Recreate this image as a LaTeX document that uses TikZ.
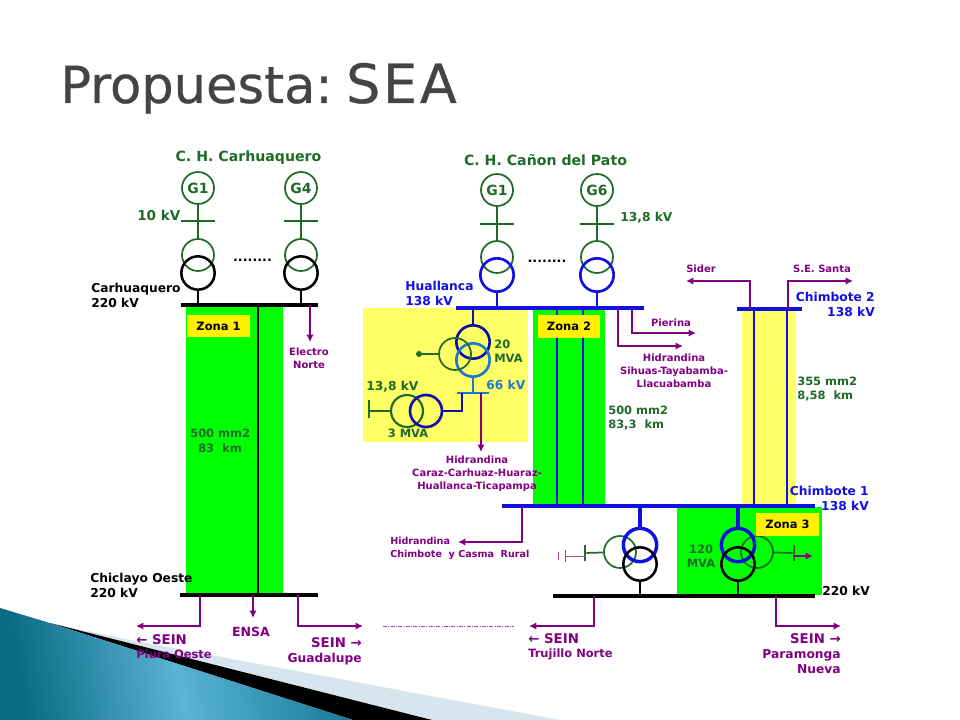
\documentclass[tikz,border=0pt]{standalone}
\usepackage{fontspec}
\setmainfont{DejaVu Sans}
\newfontfamily\titlefont[FakeBold=0.5,WordSpace=0.5]{DejaVu Sans}
\usetikzlibrary{arrows.meta}
\definecolor{gengreen}{HTML}{1E6B28}
\definecolor{zonegreen}{HTML}{00FF00}
\definecolor{paleyellow}{HTML}{FFFF66}
\definecolor{linepurple}{HTML}{800080}
\definecolor{busblue}{HTML}{1010E0}
\definecolor{lightblue}{HTML}{1E78D2}
\definecolor{navyblue}{HTML}{1010A8}
\definecolor{titlegrey}{HTML}{444444}
\definecolor{tealdark}{HTML}{0B6A85}
\definecolor{tealmid}{HTML}{5AB4D4}
\definecolor{tealend}{HTML}{1A7C9A}
\definecolor{palecorner}{HTML}{D5E6EE}
\tikzset{
    wind/.style ={circle, draw=gengreen, line width=1.3pt, inner sep=0pt, minimum size=24pt},
    gen/.style ={wind, text=gengreen, font=\bfseries\fontsize{10.5}{12}\selectfont},
    windk/.style ={wind, draw=black, line width=1.9pt, minimum size=25pt},
    windb/.style ={wind, draw=busblue, line width=2pt, minimum size=25pt},
    bus/.style ={inner sep=0pt, minimum height=3.3pt, fill=#1},
    tick/.style ={inner sep=0pt, minimum height=1.3pt, minimum width=25pt, fill=gengreen},
    tickv/.style ={inner sep=0pt, minimum width=1.5pt, minimum height=12pt, fill=gengreen},
    feed/.style ={draw=linepurple, line width=1.4pt, -{Latex[length=5.5pt,width=5.5pt]}},
    glink/.style ={draw=gengreen, line width=1.3pt},
    klink/.style ={draw=black, line width=1.9pt},
    blink/.style ={draw=busblue, line width=2.1pt},
    zonelabel/.style ={fill=yellow, inner sep=0pt, font=\bfseries\fontsize{8.6}{11}\selectfont, minimum width=47pt, minimum height=17pt},
    lbl/.style ={inner sep=0pt, align=#1, font=\bfseries\fontsize{8.6}{10.8}\selectfont},
    lbl/.default=left,
    place/.style ={lbl=#1, font=\bfseries\fontsize{9.2}{11.2}\selectfont},
    place/.default=left,
    small/.style ={inner sep=0pt, align=#1, text=linepurple, font=\bfseries\fontsize{7.5}{9.75}\selectfont},
    small/.default=center
}
\newcommand{\seinword}[1]{{\fontsize{10}{11}\selectfont #1}}
\begin{document}
\begin{tikzpicture}[x=0.75pt,y=-0.75pt]
    \useasboundingbox (0,0) rectangle (960,720);
    \node[inner sep=0pt, anchor=base west, text=titlegrey, font=\titlefont\fontsize{38.3}{46}\selectfont] (title) at (60,103) {Propuesta: {\fontsize{40.5}{46}\selectfont\addfontfeature{LetterSpace=5}SEA}};

    % corner of the slide
    \fill[palecorner] (130,640) -- (560,720) -- (432,720) -- (50,623) -- cycle;
    \fill[black] (50,623) -- (432,720) -- (353,720) -- cycle;
    \shade[left color=tealdark, right color=tealend, middle color=tealmid, shading angle=100]
        (0,608) -- (50,623) -- (353,720) -- (0,720) -- cycle;

    % zones
    \fill[zonegreen] (186,305) rectangle (283,595);
    \fill[zonegreen] (533,308) rectangle (605,506);
    \fill[paleyellow] (363,308) rectangle (528,442);
    \fill[paleyellow] (742,310) rectangle (796,506);
    \fill[zonegreen] (677,507) rectangle (822,595);

    % bus bars
    \node[bus=black, minimum width=103pt] (carh) at (249.5,305) {};
    \node[bus=black, minimum width=103pt] (chic) at (249,595) {};
    \node[bus=busblue, minimum width=141pt] (hual) at (550,308) {};
    \node[bus=busblue, minimum width=49pt] (chim2) at (769.5,309) {};
    \node[bus=busblue, minimum width=235pt] (chim1) at (658.5,506) {};
    \node[bus=black, minimum width=196pt] (sur) at (684,596) {};
    \node[inner sep=0pt, minimum height=1.8pt, minimum width=24pt, fill=lightblue] (bus66) at (473,393) {};

    % Carhuaquero
    \node[gen] (gA) at (198,188) {G1};
    \node[gen] (gB) at (301,188) {G4};
    \node[tick] (tA) at (198,221) {};
    \node[tick] (tB) at (301,221) {};
    \node[wind] (sA) at (198,255) {};
    \node[wind] (sB) at (301,255) {};
    \node[windk] (pA) at (198,273) {};
    \node[windk] (pB) at (301,273) {};
    \node[font=\bfseries\fontsize{9.6}{11}\selectfont, inner sep=0pt] (dotsA) at (252.5,260) {........};
    \path[glink] (gA) edge (sA) (gB) edge (sB);
    \path[klink] (pA) edge (pA |- carh) (pB) edge (pB |- carh);
    \draw[klink] (258,305) coordinate (lineA) -- (lineA |- chic);

    % Canon del Pato
    \node[gen] (gC) at (497,190) {G1};
    \node[gen] (gD) at (597,190) {G6};
    \node[tick] (tC) at (497,224) {};
    \node[tick] (tD) at (597,224) {};
    \node[wind] (sC) at (497,257) {};
    \node[wind] (sD) at (597,257) {};
    \node[windb] (pC) at (497,275) {};
    \node[windb] (pD) at (597,275) {};
    \node[font=\bfseries\fontsize{9.6}{11}\selectfont, inner sep=0pt] (dotsB) at (547,261) {........};
    \path[glink] (gC) edge (sC) (gD) edge (sD);
    \path[blink] (pC) edge (pC |- hual) (pD) edge (pD |- hual);

    % 20 MVA and 3 MVA
    \node[windb, draw=navyblue] (p20) at (473,342) {};
    \node[windb, draw=lightblue] (q20) at (473,360) {};
    \node[wind] (s20) at (455,354) {};
    \node[circle, fill=gengreen, inner sep=0pt, minimum size=4.5pt] (dot20) at (419,354) {};
    \path[glink] (dot20) edge (s20);
    \path[blink, draw=navyblue] (p20) edge (p20 |- hual);
    \path[blink, draw=lightblue] (q20) edge (q20 |- bus66);
    \node[wind, line width=1.6pt] (s3) at (407,411) {};
    \node[windb, draw=navyblue, minimum size=24pt] (p3) at (426,411) {};
    \node[tickv, minimum height=14pt] (t3) at (369,409) {};
    \draw[glink, line width=1.5pt] (s3) -- (t3.center |- s3);
    \draw[draw=navyblue, line width=1.6pt] (p3) -| (462,393) coordinate (end3);

    % Zona 2 and Chimbote lines
    \draw[blink] (557,308) coordinate (lineB) -- (lineB |- chim1);
    \draw[blink] (583,308) coordinate (lineC) -- (lineC |- chim1);
    \draw[blink] (754,309) coordinate (lineD) -- (lineD |- chim1);
    \draw[blink] (787,309) coordinate (lineE) -- (lineE |- chim1);

    % lower transformers
    \node[wind] (sE) at (620,552) {};
    \node[wind] (sF) at (757,552) {};
    \node[windb, line width=2.6pt] (pE) at (640,545) {};
    \node[windk] (kE) at (640,564) {};
    \node[windb, line width=2.6pt] (pF) at (738,545) {};
    \node[windk] (kF) at (738,564) {};
    \path[blink, line width=2.4pt] (pE) edge (pE |- chim1) (pF) edge (pF |- chim1);
    \path[klink] (kE) edge (kE |- sur) (kF) edge (kF |- sur);
    \node[tickv] (tE) at (585,553) {};
    \node[tickv] (tF) at (794,553) {};
    \path[glink] (sE) edge (tE) (sF) edge (tF);
    \coordinate (stubE) at (565,556);
    \coordinate (stubF) at (558,556);
    \draw[draw=linepurple!70, line width=0.7pt] (tE.center |- stubE) -- (stubE);
    \draw[draw=linepurple!70, line width=0.7pt] ([yshift=-4.5pt]stubE) -- ([yshift=4.5pt]stubE);
    \draw[draw=linepurple!70, line width=0.7pt] ([yshift=-3pt]stubF) -- ([yshift=3pt]stubF);
    \draw[feed, line width=1pt] (tF.center |- stubE) -- (813,556) coordinate (stubG);

    % feeders
    \draw[feed] (310,305) coordinate (elA) -- (310,342) coordinate (elB);
    \draw[feed] (200,595) coordinate (piA) |- (136,626) coordinate (piB);
    \draw[feed] (253,595) coordinate (enA) -- (253,618) coordinate (enB);
    \draw[feed] (298,595) coordinate (guA) |- (363,626) coordinate (guB);
    \draw[draw=linepurple!70, line width=0.5pt, dash pattern=on 3pt off 1pt on 0.7pt off 1pt] (383,626) coordinate (cutA) -- (514,626) coordinate (cutB);
    \draw[feed] (594,596) coordinate (trA) |- (529,626) coordinate (trB);
    \draw[feed] (776,596) coordinate (paA) |- (841,626) coordinate (paB);
    \draw[feed] (522,506) coordinate (hiA) |- (458,542) coordinate (hiB);
    \draw[feed] (481,393) coordinate (caA) -- (481,452) coordinate (caB);
    \draw[feed] (632,308) coordinate (peA) |- (696,333) coordinate (peB);
    \draw[feed] (618,308) coordinate (siA) |- (683,346) coordinate (siB);
    \draw[feed] (750,309) coordinate (sdA) |- (686,281) coordinate (sdB);
    \draw[feed] (788,309) coordinate (saA) |- (853,281) coordinate (saB);

    % zone labels
    \node[zonelabel] (zona1) at (218.5,326) {Zona 1};
    \node[zonelabel] (zona2) at (569,326.5) {Zona 2};
    \node[zonelabel] (zona3) at (787.5,524.5) {Zona 3};

    % texts
    \node[lbl, text=gengreen, font=\bfseries\fontsize{10.6}{12}\selectfont] (chA) at (248.5,158) {C. H. Carhuaquero};
    \node[lbl, text=gengreen, font=\bfseries\fontsize{10.6}{12}\selectfont] (chB) at (545.5,160) {C. H. Cañon del Pato};
    \node[lbl, text=gengreen, anchor=west, font=\bfseries\fontsize{10.2}{12}\selectfont] (kvA) at (137,215) {10 kV};
    \node[place, text=gengreen, anchor=west] (kvB) at (620,218) {13,8 kV};
    \node[place, anchor=west] (nCarh) at (91,295.5) {Carhuaquero\\220 kV};
    \node[place, anchor=west] (nChic) at (90,585.5) {Chiclayo Oeste\\220 kV};
    \node[place, text=busblue, anchor=west] (nHual) at (405,293) {Huallanca\\138 kV};
    \node[place=right, text=busblue, anchor=east] (nCh2) at (875,304.5) {Chimbote 2\\138 kV};
    \node[place=right, text=busblue, anchor=east] (nCh1) at (869,498.5) {Chimbote 1\\138 kV};
    \node[place, anchor=west] (kvSur) at (822,591) {220 kV};
    \node[lbl, text=gengreen, anchor=west] (mmA) at (190,441) {500 mm2\\ \ \ 83\ \ km};
    \node[lbl, text=gengreen, anchor=west] (mmB) at (608,418) {500 mm2\\83,3\ \ km};
    \node[lbl, text=gengreen, anchor=west] (mmC) at (797,389) {355 mm2\\8,58\ \ km};
    \node[lbl, text=gengreen, anchor=west] (mva20) at (494,351) {20\\MVA};
    \node[place, text=gengreen, anchor=west] (kv13) at (366,387) {13,8 kV};
    \node[place, text=lightblue, anchor=west] (kv66) at (486,385) {66 kV};
    \node[lbl, text=gengreen] (mva3) at (408,433) {3 MVA};
    \node[lbl=center, text=gengreen] (mva120) at (701,556) {120\\MVA};
    \node[small] (tElec) at (309,358.5) {Electro\\Norte};
    \node[lbl, text=linepurple, anchor=west] (tPiu) at (136,646.5) {\seinword{← SEIN}\\Piura Oeste};
    \node[lbl, text=linepurple, font=\bfseries\fontsize{9.4}{11}\selectfont] (tEnsa) at (251,632) {ENSA};
    \node[place=right, text=linepurple, anchor=east] (tGua) at (362,651.5) {\seinword{SEIN →}\\Guadalupe};
    \node[lbl, text=linepurple, anchor=west] (tTru) at (528,646.5) {\seinword{← SEIN}\\Trujillo Norte};
    \node[place=right, text=linepurple, anchor=east] (tPar) at (841,653.5) {\seinword{SEIN →}\\Paramonga\\Nueva};
    \node[small=left, anchor=west, font=\bfseries\fontsize{7.2}{9.75}\selectfont] (tChi) at (390,548.5) {Hidrandina\\Chimbote\ \ y Casma\ \ Rural};
    \node[small] (tCar) at (477,474) {Hidrandina\\Caraz-Carhuaz-Huaraz-\\Huallanca-Ticapampa};
    \node[small] (tPie) at (671,323) {Pierina};
    \node[small] (tSih) at (674,370.5) {Hidrandina\\Sihuas-Tayabamba-\\Llacuabamba};
    \node[small] (tSid) at (701,269) {Sider};
    \node[small] (tSan) at (822,269) {S.E. Santa};
\end{tikzpicture}
\end{document}
